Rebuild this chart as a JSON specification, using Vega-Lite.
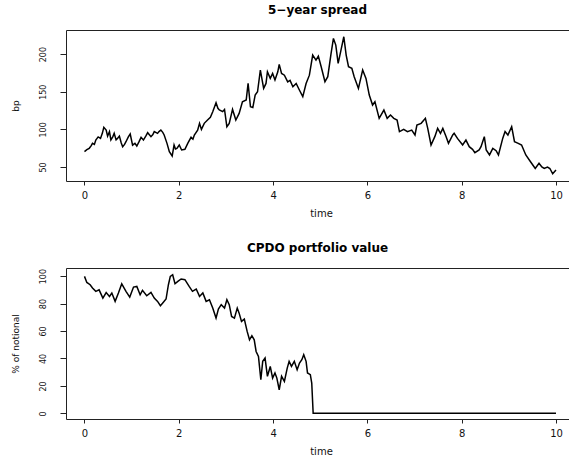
{
  "$schema": "https://vega.github.io/schema/vega-lite/v6.json",
  "padding": {"left": 11, "top": 4, "right": 0, "bottom": 0},
  "background": "white",
  "config": {
    "view": {"stroke": null},
    "font": "DejaVu Sans",
    "axis": {"labelFont": "DejaVu Sans", "titleFont": "DejaVu Sans", "grid": false, "domainColor": "#222", "tickColor": "#222", "labelColor": "#111", "titleColor": "#111", "titleFontWeight": "normal", "labelOverlap": false},
    "axisY": {"labelOverlap": false},
    "axisLeft": {"labelOverlap": false},
    "axisQuantitative": {"labelOverlap": false},
    "title": {"font": "DejaVu Sans", "fontSize": 12, "fontWeight": "bold", "color": "#000", "anchor": "middle"},
    "concat": {"spacing": 24}
  },
  "datasets": {
    "spread": [
      {"time":0.00,"bp":70.4},{"time":0.05,"bp":73},{"time":0.10,"bp":74.8},{"time":0.14,"bp":78},{"time":0.17,"bp":81.4},{"time":0.21,"bp":80},{"time":0.24,"bp":85.8},{"time":0.29,"bp":90},{"time":0.34,"bp":88},{"time":0.38,"bp":95},{"time":0.41,"bp":102.7},{"time":0.46,"bp":99},{"time":0.49,"bp":91},{"time":0.53,"bp":97},{"time":0.56,"bp":86},{"time":0.60,"bp":90},{"time":0.63,"bp":94.7},{"time":0.67,"bp":86},{"time":0.70,"bp":88},{"time":0.74,"bp":91},{"time":0.78,"bp":82},{"time":0.81,"bp":77},{"time":0.85,"bp":80},{"time":0.88,"bp":83.6},{"time":0.93,"bp":90},{"time":0.97,"bp":93.8},{"time":1.02,"bp":79},{"time":1.07,"bp":81.4},{"time":1.11,"bp":77.9},{"time":1.16,"bp":84},{"time":1.20,"bp":89.4},{"time":1.25,"bp":85.8},{"time":1.30,"bp":91},{"time":1.34,"bp":95.6},{"time":1.41,"bp":90.3},{"time":1.45,"bp":93},{"time":1.48,"bp":97},{"time":1.55,"bp":94.7},{"time":1.58,"bp":97},{"time":1.62,"bp":99},{"time":1.66,"bp":96},{"time":1.69,"bp":92.5},{"time":1.75,"bp":81.4},{"time":1.80,"bp":70.4},{"time":1.86,"bp":64.6},{"time":1.90,"bp":79.2},{"time":1.93,"bp":74},{"time":1.96,"bp":74.8},{"time":2.01,"bp":79.2},{"time":2.06,"bp":72.6},{"time":2.13,"bp":73.5},{"time":2.19,"bp":81.4},{"time":2.26,"bp":89.4},{"time":2.30,"bp":87},{"time":2.33,"bp":92.5},{"time":2.40,"bp":99},{"time":2.44,"bp":108},{"time":2.48,"bp":100},{"time":2.54,"bp":108},{"time":2.61,"bp":112.4},{"time":2.67,"bp":116},{"time":2.72,"bp":123.5},{"time":2.79,"bp":135.4},{"time":2.83,"bp":128},{"time":2.86,"bp":125.7},{"time":2.93,"bp":123.5},{"time":2.97,"bp":126.5},{"time":3.02,"bp":103.5},{"time":3.07,"bp":108},{"time":3.14,"bp":126.5},{"time":3.21,"bp":112.4},{"time":3.28,"bp":121.2},{"time":3.35,"bp":136.7},{"time":3.43,"bp":139},{"time":3.47,"bp":161},{"time":3.52,"bp":130},{"time":3.57,"bp":129},{"time":3.62,"bp":145.6},{"time":3.67,"bp":150},{"time":3.73,"bp":178.8},{"time":3.80,"bp":154.4},{"time":3.85,"bp":161},{"time":3.88,"bp":176.5},{"time":3.94,"bp":167.7},{"time":3.99,"bp":174.3},{"time":4.04,"bp":165.5},{"time":4.10,"bp":176.5},{"time":4.13,"bp":186.3},{"time":4.18,"bp":174.3},{"time":4.24,"bp":172},{"time":4.31,"bp":163},{"time":4.36,"bp":165},{"time":4.42,"bp":156.6},{"time":4.49,"bp":161},{"time":4.56,"bp":152},{"time":4.63,"bp":143.4},{"time":4.70,"bp":161},{"time":4.77,"bp":172},{"time":4.84,"bp":198.7},{"time":4.91,"bp":192},{"time":4.96,"bp":197.3},{"time":5.02,"bp":183.2},{"time":5.10,"bp":163.3},{"time":5.16,"bp":170},{"time":5.23,"bp":201},{"time":5.28,"bp":220.8},{"time":5.33,"bp":212},{"time":5.38,"bp":187.6},{"time":5.44,"bp":205.3},{"time":5.50,"bp":223},{"time":5.55,"bp":198.7},{"time":5.60,"bp":183.2},{"time":5.67,"bp":181},{"time":5.72,"bp":170},{"time":5.81,"bp":154.4},{"time":5.90,"bp":178.8},{"time":5.97,"bp":167.7},{"time":6.04,"bp":145.6},{"time":6.11,"bp":132.3},{"time":6.16,"bp":136.7},{"time":6.25,"bp":114.6},{"time":6.35,"bp":125.7},{"time":6.42,"bp":114.6},{"time":6.49,"bp":119},{"time":6.56,"bp":114.6},{"time":6.63,"bp":112.4},{"time":6.68,"bp":97},{"time":6.77,"bp":100},{"time":6.85,"bp":97},{"time":6.94,"bp":99},{"time":7.01,"bp":92.5},{"time":7.05,"bp":105.8},{"time":7.14,"bp":108},{"time":7.23,"bp":114.6},{"time":7.28,"bp":101.3},{"time":7.35,"bp":79.2},{"time":7.43,"bp":90.3},{"time":7.49,"bp":101.3},{"time":7.55,"bp":94.7},{"time":7.60,"bp":101.3},{"time":7.67,"bp":90.3},{"time":7.72,"bp":81.4},{"time":7.81,"bp":92.5},{"time":7.84,"bp":94.7},{"time":7.91,"bp":88},{"time":8.02,"bp":79.2},{"time":8.09,"bp":85.8},{"time":8.16,"bp":77},{"time":8.23,"bp":73.5},{"time":8.28,"bp":69},{"time":8.37,"bp":72.6},{"time":8.41,"bp":77},{"time":8.48,"bp":90.3},{"time":8.52,"bp":72.6},{"time":8.59,"bp":66},{"time":8.66,"bp":74.8},{"time":8.73,"bp":71.7},{"time":8.78,"bp":66},{"time":8.87,"bp":88},{"time":8.92,"bp":97},{"time":8.98,"bp":92.5},{"time":9.06,"bp":103.5},{"time":9.12,"bp":83.6},{"time":9.20,"bp":81.4},{"time":9.27,"bp":79.2},{"time":9.36,"bp":66},{"time":9.46,"bp":57},{"time":9.56,"bp":48},{"time":9.64,"bp":55},{"time":9.70,"bp":50},{"time":9.75,"bp":48},{"time":9.82,"bp":50},{"time":9.87,"bp":48},{"time":9.93,"bp":41},{"time":10.00,"bp":46}
    ],
    "cpdo": [
      {"time":0.00,"value":99.8},{"time":0.05,"value":95.4},{"time":0.12,"value":93.7},{"time":0.17,"value":91.3},{"time":0.24,"value":88.9},{"time":0.31,"value":90},{"time":0.39,"value":84},{"time":0.46,"value":88},{"time":0.53,"value":85.2},{"time":0.58,"value":87.7},{"time":0.65,"value":81.6},{"time":0.72,"value":87.7},{"time":0.79,"value":94.4},{"time":0.88,"value":88.9},{"time":0.96,"value":84.7},{"time":1.04,"value":92},{"time":1.11,"value":92.5},{"time":1.18,"value":86.4},{"time":1.23,"value":89.6},{"time":1.32,"value":85.7},{"time":1.41,"value":88.1},{"time":1.48,"value":84},{"time":1.55,"value":81.6},{"time":1.61,"value":78.4},{"time":1.66,"value":80.4},{"time":1.73,"value":83.3},{"time":1.78,"value":93.7},{"time":1.82,"value":99.8},{"time":1.87,"value":101},{"time":1.92,"value":94.4},{"time":1.98,"value":96.1},{"time":2.05,"value":97.9},{"time":2.13,"value":97.4},{"time":2.22,"value":92.5},{"time":2.29,"value":88.9},{"time":2.37,"value":90.6},{"time":2.44,"value":85.2},{"time":2.51,"value":87.7},{"time":2.58,"value":81.6},{"time":2.65,"value":82.8},{"time":2.72,"value":76.7},{"time":2.79,"value":69.4},{"time":2.84,"value":76},{"time":2.90,"value":79.2},{"time":2.97,"value":76.7},{"time":3.02,"value":82.8},{"time":3.07,"value":79.2},{"time":3.12,"value":70.6},{"time":3.18,"value":69.4},{"time":3.24,"value":76.7},{"time":3.28,"value":73},{"time":3.33,"value":67},{"time":3.39,"value":68.7},{"time":3.45,"value":59.7},{"time":3.50,"value":53.6},{"time":3.55,"value":56.6},{"time":3.60,"value":53.6},{"time":3.64,"value":45.1},{"time":3.69,"value":41.5},{"time":3.74,"value":24.5},{"time":3.78,"value":37.9},{"time":3.83,"value":40.3},{"time":3.88,"value":27},{"time":3.94,"value":34.2},{"time":3.99,"value":25.7},{"time":4.04,"value":29.4},{"time":4.08,"value":25.7},{"time":4.13,"value":17.2},{"time":4.18,"value":27},{"time":4.24,"value":23.3},{"time":4.30,"value":33},{"time":4.34,"value":37.9},{"time":4.39,"value":34.2},{"time":4.45,"value":37.9},{"time":4.51,"value":31.8},{"time":4.56,"value":36.7},{"time":4.61,"value":39.1},{"time":4.65,"value":42.7},{"time":4.70,"value":37.9},{"time":4.73,"value":29.4},{"time":4.79,"value":28.2},{"time":4.82,"value":22.1},{"time":4.85,"value":0},{"time":10.00,"value":0}
    ]
  },
  "vconcat": [
    {
      "title": {"text": "5−year spread", "offset": 13},
      "width": 503,
      "height": 151,
      "data": {"name": "spread"},
      "layer": [
        {
          "mark": {"type": "line", "color": "#000", "strokeWidth": 1.5},
          "encoding": {
            "x": {"field": "time", "type": "quantitative",
              "scale": {"domain": [-0.392, 10.276], "nice": false, "zero": false},
              "axis": {"orient": "bottom", "values": [0, 2, 4, 6, 8, 10], "title": "time", "tickSize": 4, "labelPadding": 5, "labelFontSize": 10, "titleFontSize": 10, "titlePadding": 8, "labelFlush": false, "labelOverlap": false, "titleX": 255, "titleAlign": "center"}},
            "y": {"field": "bp", "type": "quantitative",
              "scale": {"domain": [31.4, 232], "nice": false, "zero": false},
              "axis": {"values": [50, 100, 150, 200], "title": "bp", "labelAngle": 270, "labelAlign": "center", "labelBaseline": "middle", "labelOverlap": false, "labelSeparation": 0, "tickSize": 6, "labelPadding": 17, "labelFontSize": 8, "titleFontSize": 9, "titleX": -51, "titleBaseline": "middle"}}
          }
        },
        {
          "mark": {"type": "rule", "opacity": 0},
          "encoding": {
            "x": {"field": "time", "type": "quantitative", "axis": {"orient": "top", "labels": false, "ticks": false, "title": null, "domain": true}}
          }
        }
      ],
      "resolve": {"axis": {"x": "independent"}}
    },
    {
      "title": {"text": "CPDO portfolio value", "offset": 13},
      "width": 503,
      "height": 151,
      "data": {"name": "cpdo"},
      "layer": [
        {
          "mark": {"type": "line", "color": "#000", "strokeWidth": 1.5},
          "encoding": {
            "x": {"field": "time", "type": "quantitative",
              "scale": {"domain": [-0.392, 10.276], "nice": false, "zero": false},
              "axis": {"orient": "bottom", "values": [0, 2, 4, 6, 8, 10], "title": "time", "tickSize": 4, "labelPadding": 5, "labelFontSize": 10, "titleFontSize": 10, "titlePadding": 8, "labelFlush": false, "labelOverlap": false, "titleX": 255, "titleAlign": "center"}},
            "y": {"field": "value", "type": "quantitative",
              "scale": {"domain": [-4.1, 105.9], "nice": false, "zero": false},
              "axis": {"values": [0, 20, 40, 60, 80, 100], "title": "% of notional", "labelAngle": 270, "labelAlign": "center", "labelBaseline": "middle", "labelOverlap": false, "labelSeparation": 0, "tickSize": 6, "labelPadding": 17, "labelFontSize": 8, "titleFontSize": 9, "titleX": -51, "titleBaseline": "middle"}}
          }
        },
        {
          "mark": {"type": "rule", "opacity": 0},
          "encoding": {
            "x": {"field": "time", "type": "quantitative", "axis": {"orient": "top", "labels": false, "ticks": false, "title": null, "domain": true}}
          }
        }
      ],
      "resolve": {"axis": {"x": "independent"}}
    }
  ]
}
